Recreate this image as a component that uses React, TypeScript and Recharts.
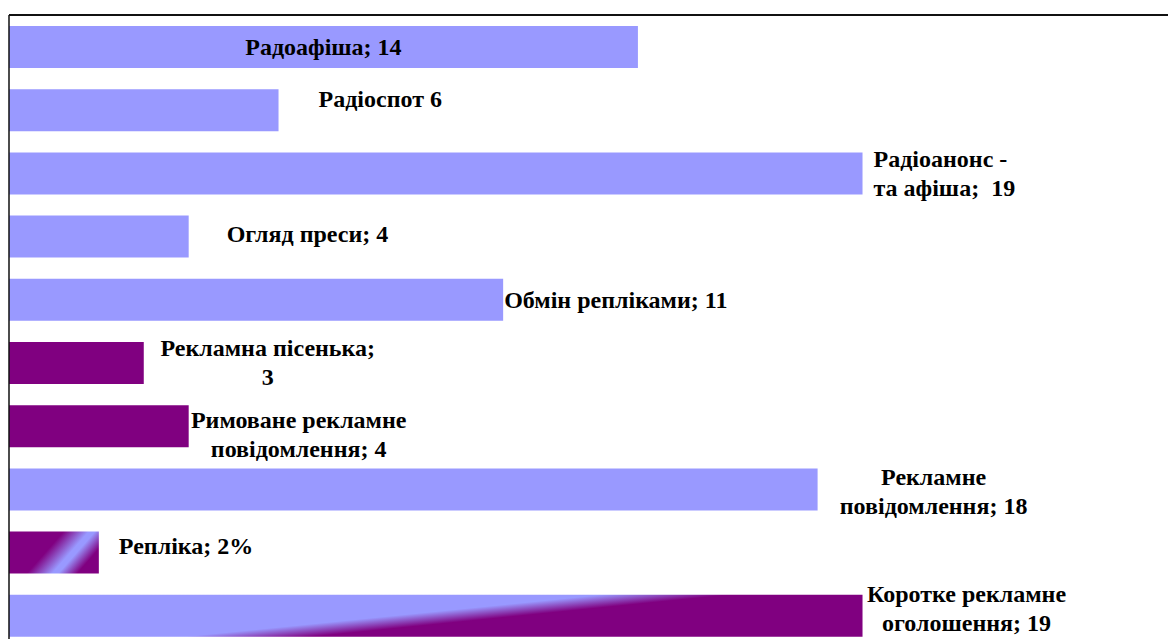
import React from 'react';
import { BarChart, Bar, XAxis, YAxis, Cell, LabelList } from 'recharts';

// категорії та значення
const categories = [
  'Радоафіша',
  'Радіоспот',
  'Радіоанонс - та афіша',
  'Огляд преси',
  'Обмін репліками',
  'Рекламна пісенька',
  'Римоване рекламне повідомлення',
  'Рекламне повідомлення',
  'Репліка',
  'Коротке рекламне оголошення',
];
const values = [14, 6, 19, 4, 11, 3, 4, 18, 2, 19];
const labelLines = [
  ['Радоафіша; 14'],
  ['Радіоспот 6'],
  ['Радіоанонс -', 'та афіша;  19'],
  ['Огляд преси; 4'],
  ['Обмін репліками; 11'],
  ['Рекламна пісенька;', '3'],
  ['Римоване рекламне', 'повідомлення; 4'],
  ['Рекламне', 'повідомлення; 18'],
  ['Репліка; 2%'],
  ['Коротке рекламне', 'оголошення; 19'],
];

const LAVENDER = '#9999FF';
const PURPLE = '#800080';

// заливка кожного стовпчика
const barFills = [
  LAVENDER, LAVENDER, LAVENDER, LAVENDER, LAVENDER,
  PURPLE, PURPLE, LAVENDER, 'url(#gradReplika)', 'url(#gradShort)',
];

// розміщення підписів відносно кінця стовпчика (anchor, dx, dy першого рядка)
const labelPlacement: { anchor: 'start' | 'middle'; dx: number; dy: number; center?: boolean }[] = [
  { anchor: 'middle', dx: 0, dy: 29, center: true },
  { anchor: 'start', dx: 40, dy: 18 },
  { anchor: 'start', dx: 11, dy: 15 },
  { anchor: 'start', dx: 38, dy: 26 },
  { anchor: 'start', dx: 1, dy: 29 },
  { anchor: 'middle', dx: 124, dy: 14 },
  { anchor: 'middle', dx: 110, dy: 23 },
  { anchor: 'middle', dx: 116, dy: 17 },
  { anchor: 'start', dx: 20, dy: 22 },
  { anchor: 'middle', dx: 104, dy: 7 },
];

const LINE_HEIGHT = 29;

const data = categories.map((name, i) => ({ name, value: values[i] }));

const renderLabel = (props: any) => {
  const { x, y, width, index } = props;
  const p = labelPlacement[index];
  const lines = labelLines[index];
  const baseX = p.center ? x + width / 2 : x + width + p.dx;
  return (
    <text
      x={baseX}
      y={y + p.dy}
      textAnchor={p.anchor}
      fontFamily='"Liberation Serif", "Times New Roman", serif'
      fontWeight="bold"
      fontSize={24}
      fill="#000"
      style={{ whiteSpace: 'pre' }}
    >
      {lines.map((line, i) => (
        <tspan key={i} x={baseX} dy={i === 0 ? 0 : LINE_HEIGHT}>
          {line}
        </tspan>
      ))}
    </text>
  );
};

export default function App() {
  return (
    <div
      style={{
        position: 'fixed',
        left: 0,
        top: 0,
        width: 1168,
        height: 639,
        overflow: 'hidden',
        background: '#fff',
      }}
    >
      <BarChart
        width={1168}
        height={647}
        data={data}
        layout="vertical"
        margin={{ top: 14, left: 8, right: 0, bottom: 0 }}
        barSize={42}
      >
        <defs>
          <linearGradient id="gradReplika" x1="0" y1="0" x2="1" y2="0.41">
            <stop offset="0" stopColor={PURPLE} />
            <stop offset="0.52" stopColor={PURPLE} />
            <stop offset="0.76" stopColor={LAVENDER} />
            <stop offset="0.82" stopColor={LAVENDER} />
            <stop offset="1" stopColor={PURPLE} />
          </linearGradient>
          <linearGradient id="gradShort" x1="0" y1="0" x2="1" y2="0.49">
            <stop offset="0" stopColor={LAVENDER} />
            <stop offset="0.56" stopColor={LAVENDER} />
            <stop offset="0.68" stopColor={PURPLE} />
            <stop offset="1" stopColor={PURPLE} />
          </linearGradient>
        </defs>
        <XAxis
          type="number"
          orientation="top"
          domain={[0, 25.8]}
          height={1}
          tick={false}
          tickLine={false}
          axisLine={{ stroke: '#111', strokeWidth: 2 }}
        />
        <YAxis
          type="category"
          dataKey="name"
          width={1}
          tick={false}
          tickLine={false}
          axisLine={{ stroke: '#111', strokeWidth: 1.5 }}
        />
        <Bar dataKey="value" isAnimationActive={false}>
          {data.map((_, i) => (
            <Cell key={i} fill={barFills[i]} />
          ))}
          <LabelList dataKey="value" content={renderLabel} />
        </Bar>
      </BarChart>
    </div>
  );
}
